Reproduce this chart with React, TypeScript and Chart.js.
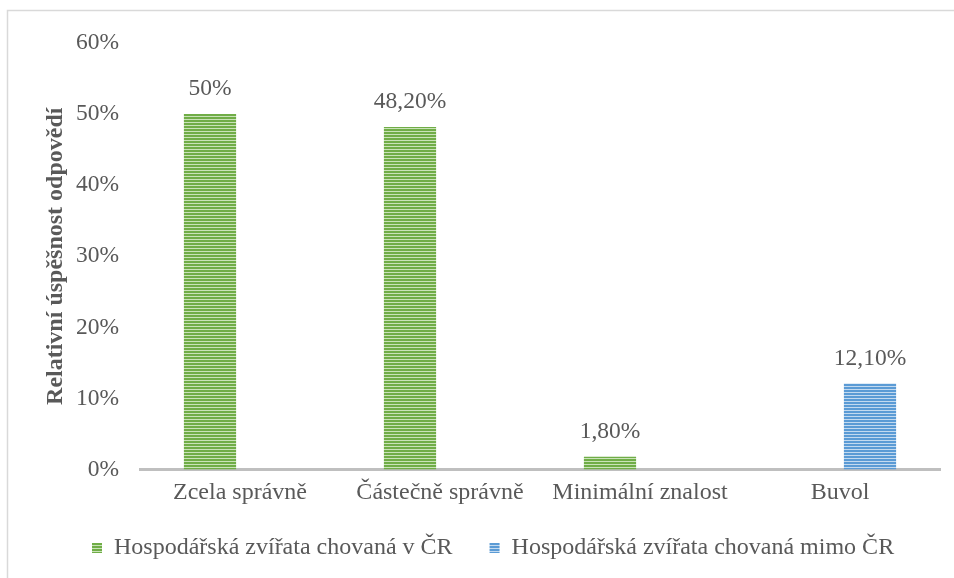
import React, { useEffect, useRef } from "react";
import { Chart, registerables } from "chart.js";

Chart.register(...registerables);

const categories = ["Zcela správně", "Částečně správně", "Minimální znalost", "Buvol"];
const seriesNames = ["Hospodářská zvířata chovaná v ČR", "Hospodářská zvířata chovaná mimo ČR"];
const inCR: (number | null)[] = [50, 48.2, 1.8, null];
const outsideCR: (number | null)[] = [null, null, null, 12.1];
const inCRLabels = ["50%", "48,20%", "1,80%", ""];
const outsideCRLabels = ["", "", "", "12,10%"];
const yMin = 0;
const yMax = 60;
const yStep = 10;
const yTitle = "Relativní úspěšnost odpovědí";

const FONT = "'Liberation Serif', 'Times New Roman', serif";
const TEXT = "#595959";

function stripePattern(ctx: CanvasRenderingContext2D, dark: string, light: string) {
  const c = document.createElement("canvas");
  c.width = 4;
  c.height = 3;
  const g = c.getContext("2d")!;
  g.fillStyle = dark;
  g.fillRect(0, 0, 4, 3);
  g.fillStyle = light;
  g.fillRect(0, 2, 4, 1);
  return ctx.createPattern(c, "repeat") as CanvasPattern;
}

export default function App() {
  const ref = useRef<HTMLCanvasElement | null>(null);

  useEffect(() => {
    const canvas = ref.current!;
    const ctx = canvas.getContext("2d")!;
    const green = stripePattern(ctx, "#70AD47", "#C9E3B8");
    const blue = stripePattern(ctx, "#5B9BD5", "#C3DAF0");
    const labelSets = [inCRLabels, outsideCRLabels];

    const frame = {
      id: "frame",
      beforeDraw(chart: any) {
        const c = chart.ctx;
        c.save();
        c.fillStyle = "#ffffff";
        c.fillRect(0, 0, chart.width, chart.height);
        c.strokeStyle = "#D9D9D9";
        c.lineWidth = 1.5;
        c.strokeRect(7.5, 10.5, chart.width + 20, chart.height + 20);
        c.restore();
      },
    };

    const dataLabels = {
      id: "dataLabels",
      afterDatasetsDraw(chart: any) {
        const c = chart.ctx;
        c.save();
        c.fillStyle = TEXT;
        c.font = `23.5px ${FONT}`;
        c.textAlign = "center";
        c.textBaseline = "middle";
        chart.data.datasets.forEach((ds: any, i: number) => {
          const meta = chart.getDatasetMeta(i);
          meta.data.forEach((el: any, j: number) => {
            if (ds.data[j] == null) return;
            c.fillText(labelSets[i][j], el.x, el.y - 25);
          });
        });
        c.restore();
      },
    };

    const legendShift = {
      id: "legendShift",
      afterLayout(chart: any) {
        const lg = chart.legend;
        if (!lg || !lg.lineWidths) return;
        const pad = lg.options.labels.padding;
        const curX = (lg.left + pad + lg.right - lg.lineWidths[0]) / 2;
        const dx = 92 - curX;
        const curY = lg.top + pad + 12;
        const dy = 548 - curY;
        lg.left += dx;
        lg.right += dx;
        lg.top += dy;
        lg.bottom += dy;
      },
    };

    const chart = new Chart(canvas, {
      type: "bar",
      data: {
        labels: categories,
        datasets: [
          {
            label: seriesNames[0],
            data: inCR,
            backgroundColor: green,
            borderWidth: 0,
            categoryPercentage: 0.6,
            barPercentage: 0.87,
          },
          {
            label: seriesNames[1],
            data: outsideCR,
            backgroundColor: blue,
            borderWidth: 0,
            categoryPercentage: 0.6,
            barPercentage: 0.87,
          },
        ],
      },
      options: {
        responsive: false,
        animation: false,
        devicePixelRatio: 1,
        layout: { padding: { top: 43, right: 14, bottom: 0, left: 0 } },
        scales: {
          x: {
            grid: { display: false, drawTicks: false },
            border: { display: true, color: "#BFBFBF", width: 3 },
            ticks: {
              color: TEXT,
              font: { family: FONT, size: 24 },
              padding: 9,
              maxRotation: 0,
            },
            afterFit: (s: any) => {
              s.height = 37.5;
            },
          },
          y: {
            min: yMin,
            max: yMax,
            grid: { display: false, drawTicks: false },
            border: { display: false },
            ticks: {
              stepSize: yStep,
              color: TEXT,
              font: { family: FONT, size: 23.5 },
              padding: 21,
              callback: (v: any) => `${v}%`,
            },
            title: {
              display: true,
              text: yTitle,
              color: TEXT,
              font: { family: FONT, size: 24, weight: "bold" },
              padding: { top: 41, bottom: 0 },
            },
            afterFit: (s: any) => {
              s.width = 140;
            },
          },
        },
        plugins: {
          legend: {
            position: "bottom",
            labels: {
              boxWidth: 10,
              boxHeight: 10,
              padding: 37,
              color: TEXT,
              font: { family: FONT, size: 24 },
            },
          },
          tooltip: { enabled: false },
        },
      },
      plugins: [frame, dataLabels, legendShift],
    } as any);

    return () => chart.destroy();
  }, []);

  return (
    <div style={{ position: "fixed", left: 0, top: 0, width: 954, height: 578, background: "#fff" }}>
      <canvas ref={ref} width={954} height={578} style={{ display: "block", width: 954, height: 578 }} />
    </div>
  );
}
